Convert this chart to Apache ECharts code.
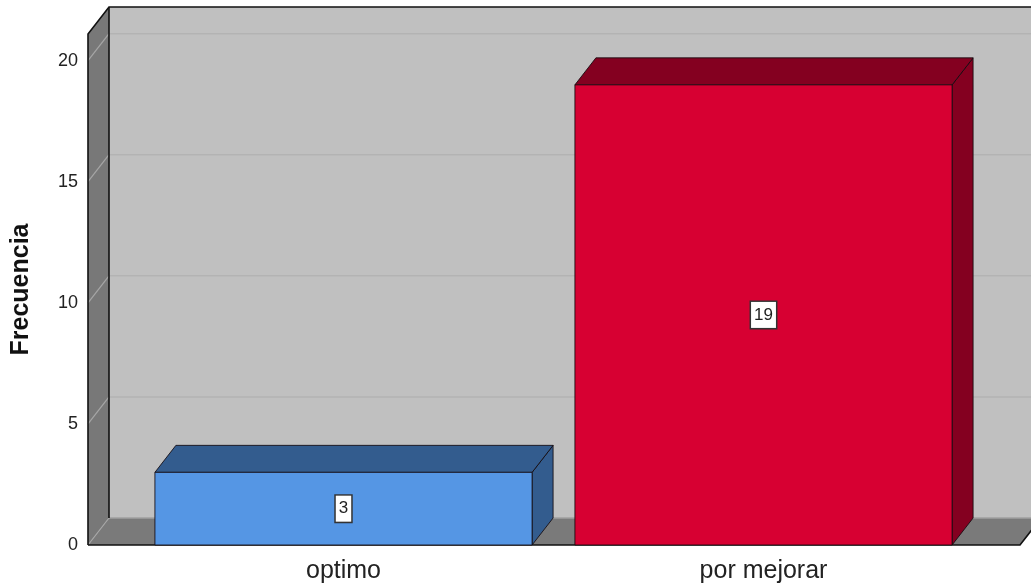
<!DOCTYPE html>
<html>
<head>
<meta charset="utf-8">
<script src="https://cdn.jsdelivr.net/npm/echarts@6/dist/echarts.min.js"></script>
<style>
  html, body { margin: 0; padding: 0; background: #ffffff; }
  #chart { width: 1031px; height: 584px; }
</style>
</head>
<body>
<div id="chart"></div>
<script>
// Frequency of each rating category
const categories = ['optimo', 'por mejorar'];
const frecuencia = [3, 19];
const yTicks = [0, 5, 10, 15, 20];

// Palette (front face / top and side faces) per category
const frontColors = ['#5596E4', '#D70032'];
const shadeColors = ['#335C8E', '#840020'];

// 3D depth offset of the walls and bars, in pixels
const DX = 21;
const DY = -27;

const FONT = "'Liberation Sans', Arial, sans-serif";
const Y_MAX = 21.1;

const chart = echarts.init(document.getElementById('chart'), null, { renderer: 'canvas' });

function stroke(color, width) {
  return { fill: 'none', stroke: color, lineWidth: width };
}

// Back wall, left wall and floor, drawn in the front-plane grid
function renderWalls(params, api) {
  const bl = api.coord([0, 0]);
  const tr = api.coord([1, Y_MAX]);
  const left = bl[0], bottom = bl[1], right = tr[0], top = tr[1];
  const farRight = right + DX + 30;
  const children = [];

  // back wall
  children.push({
    type: 'rect',
    shape: { x: left + DX, y: top + DY, width: farRight - left - DX, height: bottom - top },
    style: { fill: '#C0C0C0' }
  });
  // left wall
  children.push({
    type: 'polygon',
    shape: { points: [[left, top], [left + DX, top + DY], [left + DX, bottom + DY], [left, bottom]] },
    style: { fill: '#787878' }
  });
  // floor
  children.push({
    type: 'polygon',
    shape: { points: [[left, bottom], [left + DX, bottom + DY], [right + DX, bottom + DY], [right, bottom]] },
    style: { fill: '#7A7A7A' }
  });

  // gridlines on back wall and their diagonals on the left wall
  yTicks.forEach(function (v) {
    const y = api.coord([0, v])[1];
    children.push({
      type: 'line',
      shape: { x1: left + DX, y1: y + DY, x2: farRight, y2: y + DY },
      style: stroke(v === 0 ? '#A0A0A0' : '#B3B3B3', 1.5)
    });
    children.push({
      type: 'line',
      shape: { x1: left, y1: y, x2: left + DX, y2: y + DY },
      style: stroke('#A6A6A6', 1.2)
    });
  });

  // dark outline edges
  children.push({ type: 'polyline', shape: { points: [[left, bottom], [left, top], [left + DX, top + DY], [farRight, top + DY]] }, style: stroke('#111111', 1.6) });
  children.push({ type: 'line', shape: { x1: left + DX, y1: top + DY, x2: left + DX, y2: bottom + DY }, style: stroke('#111111', 1.6) });
  children.push({ type: 'polyline', shape: { points: [[left, bottom], [right, bottom], [right + DX, bottom + DY]] }, style: stroke('#111111', 1.6) });

  return { type: 'group', children: children };
}

// 3D bars: front face, top face and right side, with a boxed value label
function renderBar(params, api) {
  const idx = api.value(0);
  const val = api.value(1);
  const base = api.coord([idx, 0]);
  const peak = api.coord([idx, val]);
  const band = api.size([1, 0])[0];
  const w = band * 0.898;
  const x0 = base[0] - w / 2, x1 = base[0] + w / 2;
  const yT = peak[1], yB = base[1];
  const front = frontColors[idx];
  const shade = shadeColors[idx];
  const edge = 'rgba(20,10,15,0.85)';

  return {
    type: 'group',
    children: [
      {
        type: 'polygon',
        shape: { points: [[x1, yT], [x1 + DX, yT + DY], [x1 + DX, yB + DY], [x1, yB]] },
        style: { fill: shade, stroke: edge, lineWidth: 1 }
      },
      {
        type: 'polygon',
        shape: { points: [[x0, yT], [x0 + DX, yT + DY], [x1 + DX, yT + DY], [x1, yT]] },
        style: { fill: shade, stroke: edge, lineWidth: 1 }
      },
      {
        type: 'rect',
        shape: { x: x0, y: yT, width: w, height: yB - yT },
        style: { fill: front, stroke: edge, lineWidth: 1 }
      },
      {
        type: 'text',
        x: base[0],
        y: (yT + yB) / 2,
        style: {
          text: String(val),
          align: 'center',
          verticalAlign: 'middle',
          font: '17px ' + FONT,
          fill: '#1e1e1e',
          backgroundColor: '#ffffff',
          borderColor: '#333333',
          borderWidth: 1.5,
          padding: [5, 3, 4, 3]
        }
      }
    ]
  };
}

const option = {
  animation: false,
  backgroundColor: '#ffffff',
  grid: [
    { left: 88, right: 11, top: 34, bottom: 39 },
    { left: 133.5, right: 57.5, top: 34, bottom: 39 }
  ],
  xAxis: [
    { type: 'value', gridIndex: 0, min: 0, max: 1, show: false },
    {
      type: 'category', gridIndex: 1, data: categories,
      axisLine: { show: false }, axisTick: { show: false },
      axisLabel: { fontSize: 25, fontFamily: FONT, color: '#222222', margin: 14 }
    }
  ],
  yAxis: [
    {
      type: 'value', gridIndex: 0, min: 0, max: Y_MAX, interval: 5,
      name: 'Frecuencia', nameLocation: 'middle', nameGap: 54, nameRotate: 90,
      nameTextStyle: { fontSize: 25, fontWeight: 'bold', fontFamily: FONT, color: '#111111' },
      axisLine: { show: false }, axisTick: { show: false }, splitLine: { show: false },
      axisLabel: {
        fontSize: 18, fontFamily: FONT, color: '#222222', margin: 10,
        formatter: function (v) { return yTicks.indexOf(v) >= 0 ? String(v) : ''; }
      }
    },
    { type: 'value', gridIndex: 1, min: 0, max: Y_MAX, show: false }
  ],
  series: [
    {
      type: 'custom', name: 'walls', xAxisIndex: 0, yAxisIndex: 0, z: 1, silent: true,
      clip: false, renderItem: renderWalls, data: [[0, 0]]
    },
    {
      type: 'custom', name: 'Frecuencia', xAxisIndex: 1, yAxisIndex: 1, z: 2,
      clip: false, renderItem: renderBar,
      encode: { x: 0, y: 1 },
      data: categories.map(function (c, i) { return [i, frecuencia[i]]; })
    }
  ]
};

chart.setOption(option);
</script>
</body>
</html>
